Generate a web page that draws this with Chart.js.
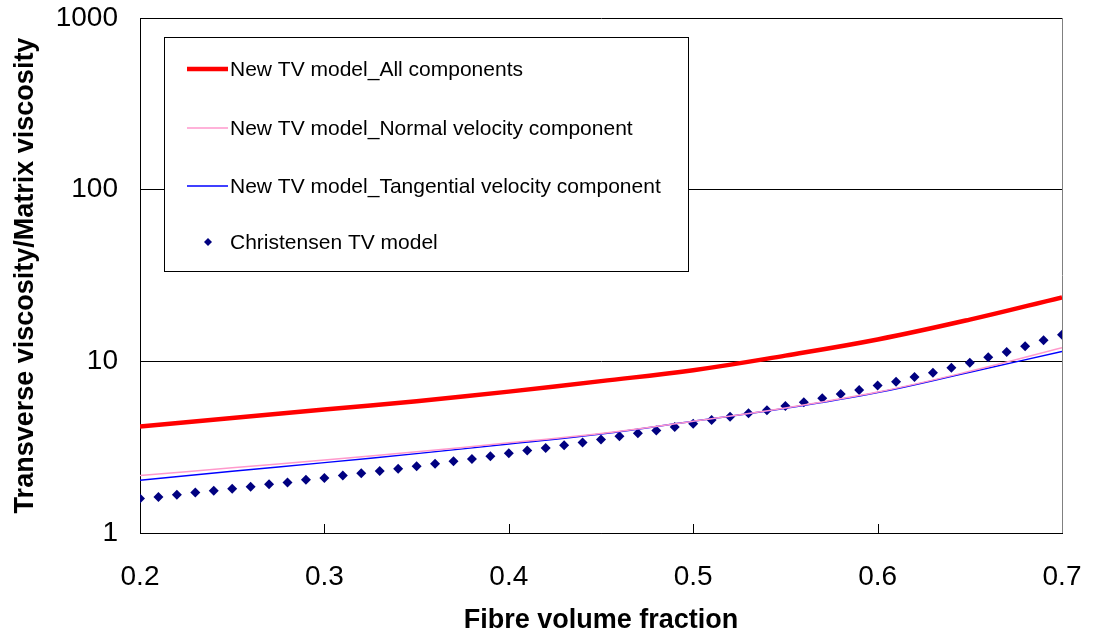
<!DOCTYPE html>
<html>
<head>
<meta charset="utf-8">
<script src="https://cdn.jsdelivr.net/npm/chart.js@4"></script>
<style>
    html, body { margin: 0; padding: 0; background: #fff; }
    #box { width: 1101px; height: 639px; }
</style>
</head>
<body>
<div id="box"><canvas id="grafico"></canvas></div>
<script>
// ================== DATOS ==================

// fibre volume fraction for the model curves
const fraccion = [0.20, 0.25, 0.30, 0.35, 0.40, 0.45, 0.50, 0.55, 0.60, 0.65, 0.70];

const todasComponentes = [4.17, 4.68, 5.24, 5.86, 6.66, 7.67, 8.88, 10.8, 13.4, 17.5, 23.6];
const velNormal       = [2.16, 2.40, 2.66, 2.97, 3.35, 3.80, 4.48, 5.35, 6.62, 8.75, 12.0];
const velTangencial   = [2.03, 2.29, 2.57, 2.90, 3.30, 3.77, 4.48, 5.33, 6.58, 8.65, 11.4];

// Christensen model, points every 0.01
const fraccionChristensen = [
    0.20, 0.21, 0.22, 0.23, 0.24, 0.25, 0.26, 0.27, 0.28, 0.29,
    0.30, 0.31, 0.32, 0.33, 0.34, 0.35, 0.36, 0.37, 0.38, 0.39,
    0.40, 0.41, 0.42, 0.43, 0.44, 0.45, 0.46, 0.47, 0.48, 0.49,
    0.50, 0.51, 0.52, 0.53, 0.54, 0.55, 0.56, 0.57, 0.58, 0.59,
    0.60, 0.61, 0.62, 0.63, 0.64, 0.65, 0.66, 0.67, 0.68, 0.69, 0.70
];
const christensen = [
    1.59, 1.62, 1.67, 1.72, 1.76, 1.81, 1.86, 1.92, 1.97, 2.04,
    2.09, 2.16, 2.23, 2.30, 2.37, 2.45, 2.53, 2.62, 2.70, 2.80,
    2.91, 3.02, 3.13, 3.24, 3.37, 3.50, 3.66, 3.81, 3.96, 4.14,
    4.33, 4.55, 4.76, 4.98, 5.18, 5.49, 5.77, 6.09, 6.45, 6.81,
    7.22, 7.61, 8.10, 8.59, 9.18, 9.82, 10.55, 11.33, 12.23, 13.25, 14.30
];

const ticksY = [1, 10, 100, 1000];
const ticksX = [0.2, 0.3, 0.4, 0.5, 0.6, 0.7];

function puntos(xs, ys) {
    return xs.map((x, i) => ({ x: x, y: ys[i] }));
}

// ================== PLUGINS ==================

// legend box inside the plot area
const leyendaDentro = {
    id: 'leyendaDentro',
    afterDraw(chart) {
        const c = chart.ctx;
        const a = chart.chartArea;
        const x0 = a.left + 24, y0 = a.top + 19;
        const w = 524, h = 234;
        c.save();
        c.fillStyle = '#fff';
        c.fillRect(x0, y0, w, h);
        c.strokeStyle = '#000';
        c.lineWidth = 1;
        c.strokeRect(x0 + 0.5, y0 + 0.5, w, h);
        c.font = '21px "Liberation Sans", Arial, sans-serif';
        c.textBaseline = 'middle';
        const filas = [32, 91, 149, 205];
        chart.data.datasets.forEach((ds, i) => {
            const yy = y0 + filas[i];
            if (ds.showLine === false) {
                c.fillStyle = ds.pointBackgroundColor;
                c.beginPath();
                c.moveTo(x0 + 44, yy - 4);
                c.lineTo(x0 + 48, yy);
                c.lineTo(x0 + 44, yy + 4);
                c.lineTo(x0 + 40, yy);
                c.closePath();
                c.fill();
            } else {
                c.strokeStyle = ds.borderColor;
                c.lineWidth = ds.borderWidth;
                c.beginPath();
                c.moveTo(x0 + 23, yy);
                c.lineTo(x0 + 64, yy);
                c.stroke();
            }
            c.fillStyle = '#000';
            c.fillText(ds.label, x0 + 66, yy + 1);
        });
        c.restore();
    }
};

// frame and inward x tick marks
const marco = {
    id: 'marco',
    beforeDatasetsDraw(chart) {
        const c = chart.ctx;
        const a = chart.chartArea;
        const sx = chart.scales.x;
        c.save();
        c.strokeStyle = '#000';
        c.lineWidth = 1;
        ticksX.forEach(v => {
            const px = Math.round(sx.getPixelForValue(v)) + 0.5;
            c.beginPath();
            c.moveTo(px, a.bottom);
            c.lineTo(px, a.bottom - 9);
            c.stroke();
        });
        c.strokeStyle = '#808080';
        c.beginPath();
        c.moveTo(Math.round(a.right) + 0.5, a.top);
        c.lineTo(Math.round(a.right) + 0.5, a.bottom);
        c.stroke();
        c.restore();
    }
};

// ================== GRÁFICO ==================

const ctx = document.getElementById('grafico');
const fuente = '"Liberation Sans", Arial, sans-serif';

new Chart(ctx, {
    type: 'line',
    data: {
        datasets: [{
            label: 'New TV model_All components',
            data: puntos(fraccion, todasComponentes),
            borderColor: '#ff0000',
            borderWidth: 4.5,
            pointRadius: 0,
            tension: 0.4
        }, {
            label: 'New TV model_Normal velocity component',
            data: puntos(fraccion, velNormal),
            borderColor: '#ff99cc',
            borderWidth: 1.5,
            pointRadius: 0,
            tension: 0.4
        }, {
            label: 'New TV model_Tangential velocity component',
            data: puntos(fraccion, velTangencial),
            borderColor: '#0000ff',
            borderWidth: 1.5,
            pointRadius: 0,
            tension: 0.4
        }, {
            label: 'Christensen TV model',
            data: puntos(fraccionChristensen, christensen),
            showLine: false,
            pointStyle: 'rectRot',
            pointRadius: 5,
            pointBackgroundColor: '#000080',
            pointBorderColor: '#000080',
            pointBorderWidth: 0
        }]
    },
    options: {
        responsive: true,
        maintainAspectRatio: false,
        animation: false,
        layout: { padding: { top: 18, right: 39, left: 0, bottom: 0 } },
        plugins: {
            legend: { display: false },
            tooltip: { enabled: false }
        },
        scales: {
            x: {
                type: 'linear',
                min: 0.2,
                max: 0.7,
                afterBuildTicks: s => { s.ticks = ticksX.map(v => ({ value: v })); },
                afterFit: s => { s.height = 106; s.paddingLeft = 0; s.paddingRight = 0; },
                grid: { display: false, drawTicks: false },
                border: { color: '#000', width: 1 },
                ticks: {
                    padding: 27,
                    color: '#000',
                    font: { family: fuente, size: 28 },
                    callback: v => v.toFixed(1)
                },
                title: {
                    display: true,
                    text: 'Fibre volume fraction',
                    color: '#000',
                    font: { family: fuente, size: 27, weight: 'bold' },
                    padding: { top: 0, bottom: 2 }
                }
            },
            y: {
                type: 'logarithmic',
                min: 1,
                max: 1000,
                afterBuildTicks: s => { s.ticks = ticksY.map(v => ({ value: v })); },
                afterFit: s => { s.width = 140; s.paddingTop = 0; s.paddingBottom = 0; },
                grid: { color: '#000', lineWidth: 1, drawTicks: false },
                border: { color: '#000', width: 1 },
                ticks: {
                    padding: 22,
                    color: '#000',
                    font: { family: fuente, size: 28 },
                    callback: v => String(v)
                },
                title: {
                    display: true,
                    text: 'Transverse viscosity/Matrix viscosity',
                    color: '#000',
                    font: { family: fuente, size: 27, weight: 'bold' },
                    padding: { top: 9, bottom: 0 }
                }
            }
        }
    },
    plugins: [marco, leyendaDentro]
});
</script>
</body>
</html>
